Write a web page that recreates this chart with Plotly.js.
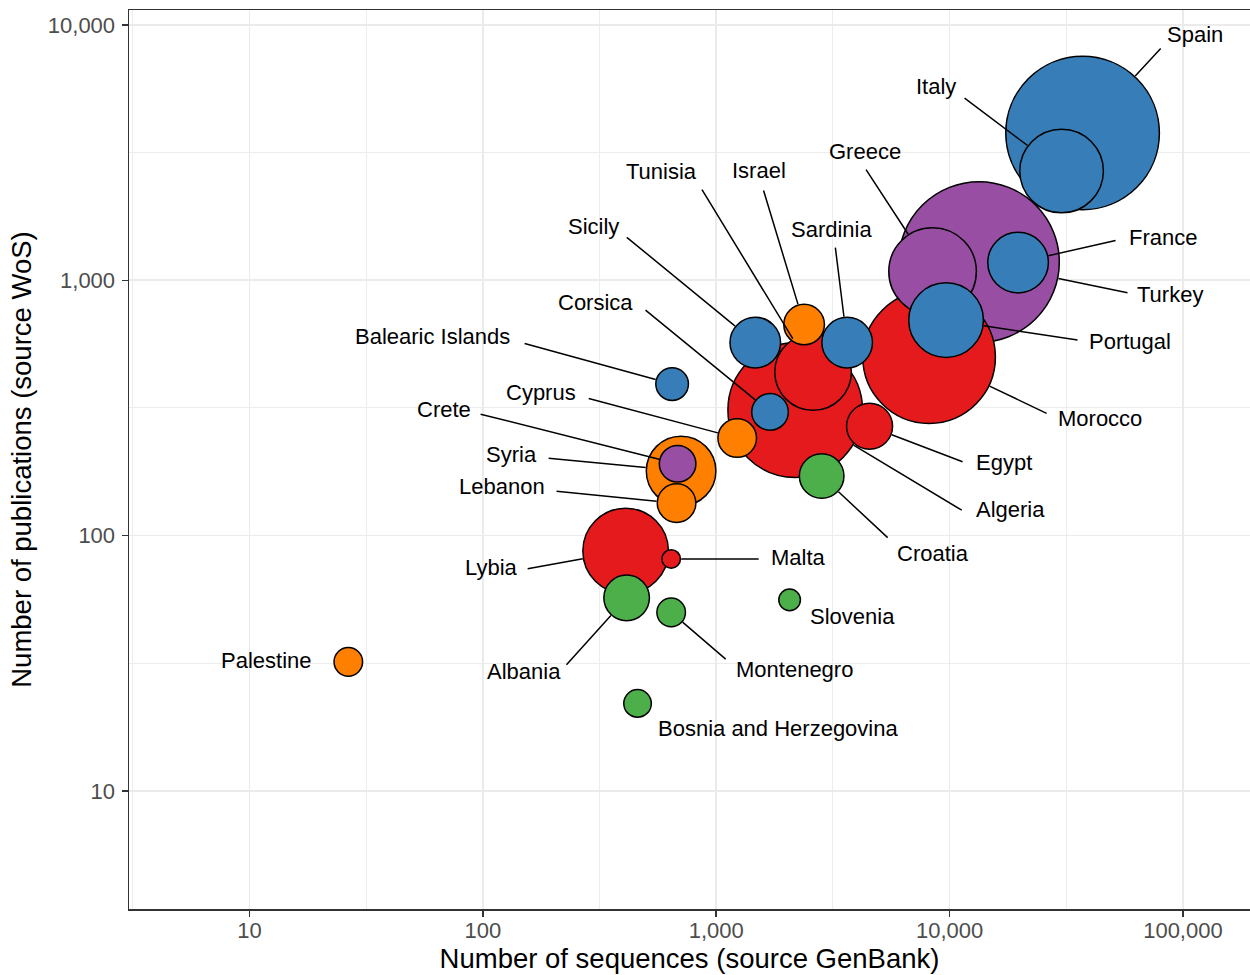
<!DOCTYPE html>
<html>
<head>
<meta charset="utf-8">
<script src="https://cdn.plot.ly/plotly-3.0.1.min.js"></script>
<style>
  html, body { margin: 0; padding: 0; background: #ffffff; }
  #chart { width: 1250px; height: 975px; }
</style>
</head>
<body>
<div id="chart"></div>
<script>
// ---------------- DATA ----------------
const countries = ["Spain", "Italy", "Turkey", "Greece", "France", "Portugal", "Morocco", "Egypt",
  "Algeria", "Tunisia", "Sardinia", "Israel", "Sicily", "Corsica", "Balearic Islands", "Cyprus",
  "Crete", "Syria", "Lebanon", "Croatia", "Lybia", "Malta", "Albania", "Montenegro", "Slovenia",
  "Bosnia and Herzegovina", "Palestine"];

// Number of sequences (source GenBank)
const sequences = [37150, 30200, 13370, 8455, 19660, 9660, 8170, 4540,
  2180, 2600, 3640, 2380, 1470, 1700, 647, 1230,
  683, 707, 676, 2830, 409, 641, 413, 641, 2063,
  460, 26.5];

// Number of publications (source WoS)
const publications = [3775, 2678, 1179, 1082, 1173, 698, 500, 268,
  310, 437, 570, 671, 570, 305, 392, 241,
  191, 179, 134, 171, 87, 81, 57, 50, 56,
  22, 32];

// Bubble size variable (relative)
const bubbleValue = [590, 174.7, 644.8, 191.8, 91.8, 139.1, 439.6, 52.9,
  452.9, 146.7, 64, 41.2, 64, 33.5, 26.6, 37.2,
  33.5, 121.1, 37.2, 49.7, 183.2, 8.6, 52, 20.4, 11.7,
  19, 20.4];

// Region group of each country
const region = ["Western", "Western", "Eastern", "Eastern", "Western", "Western", "Southern", "Southern",
  "Southern", "Southern", "Western", "Levant", "Western", "Western", "Western", "Levant",
  "Eastern", "Levant", "Levant", "Balkans", "Southern", "Southern", "Balkans", "Balkans", "Balkans",
  "Balkans", "Levant"];

const xTickVals = [10, 100, 1000, 10000, 100000];
const xTickText = ["10", "100", "1,000", "10,000", "100,000"];
const yTickVals = [10, 100, 1000, 10000];
const yTickText = ["10", "100", "1,000", "10,000"];

// ---------------- STYLE / LAYOUT ----------------
const FONT = '"Liberation Sans", Arial, Helvetica, sans-serif';
const regionColors = {
  Western: "#377EB8",
  Eastern: "#984EA3",
  Southern: "#E41A1C",
  Levant: "#FF7F00",
  Balkans: "#4DAF4A"
};
const SIZEREF = 0.05;
const LINE_W = 1.5;
const outerR = v => Math.sqrt(v / (2 * SIZEREF)) + LINE_W / 2;

// label placement (pixel offsets from bubble centre): text centre (dx,dy), segment start (sx,sy)
const labelLayout = {
  "Spain": { dx: 112.5, dy: -99, sx: 79.5, sy: -86 },
  "Italy": { dx: -125.5, dy: -85, sx: -98.5, sy: -74 },
  "Turkey": { dx: 191, dy: 32, sx: 150, sy: 31 },
  "Greece": { dx: -67.5, dy: -120.5, sx: -67.5, sy: -103.5 },
  "France": { dx: 144.5, dy: -25.5, sx: 99, sy: -22.5 },
  "Portugal": { dx: 183.5, dy: 21, sx: 133, sy: 20 },
  "Morocco": { dx: 170.5, dy: 61, sx: 119, sy: 57 },
  "Egypt": { dx: 134, dy: 36, sx: 94.5, sy: 36 },
  "Algeria": { dx: 215.5, dy: 99, sx: 168, sy: 101 },
  "Tunisia": { dx: -152, dy: -201, sx: -112, sy: -184 },
  "Sardinia": { dx: -15.5, dy: -113.5, sx: -12, sy: -96.5 },
  "Israel": { dx: -45.5, dy: -154.5, sx: -41, sy: -135.5 },
  "Sicily": { dx: -162, dy: -116.5, sx: -130, sy: -106.5 },
  "Corsica": { dx: -175, dy: -109, sx: -126, sy: -103 },
  "Balearic Islands": { dx: -239.5, dy: -48, sx: -149, sy: -41 },
  "Cyprus": { dx: -196, dy: -46, sx: -150, sy: -40 },
  "Crete": { dx: -233.5, dy: -54, sx: -198.5, sy: -50 },
  "Syria": { dx: -170, dy: -17, sx: -134, sy: -13 },
  "Lebanon": { dx: -174.5, dy: -17, sx: -121.5, sy: -12 },
  "Croatia": { dx: 111, dy: 77, sx: 67.5, sy: 63 },
  "Lybia": { dx: -134.5, dy: 17, sx: -99.5, sy: 18 },
  "Malta": { dx: 127, dy: -1, sx: 89, sy: 0 },
  "Albania": { dx: -102.5, dy: 73.5, sx: -61.5, sy: 68.5 },
  "Montenegro": { dx: 123, dy: 57, sx: 56, sy: 48 },
  "Slovenia": { dx: 62.5, dy: 16.5 },
  "Bosnia and Herzegovina": { dx: 140, dy: 25.5 },
  "Palestine": { dx: -81.5, dy: -1 }
};

// draw largest bubbles first
const order = countries.map((_, i) => i).sort((a, b) => bubbleValue[b] - bubbleValue[a]);

const trace = {
  type: "scatter",
  mode: "markers",
  x: order.map(i => sequences[i]),
  y: order.map(i => publications[i]),
  text: order.map(i => countries[i]),
  hoverinfo: "text",
  marker: {
    size: order.map(i => bubbleValue[i]),
    sizemode: "area",
    sizeref: SIZEREF,
    color: order.map(i => regionColors[region[i]]),
    opacity: 1,
    line: { color: "#000000", width: LINE_W }
  },
  showlegend: false,
  cliponaxis: false
};

const annotations = [];
countries.forEach((name, i) => {
  const lay = labelLayout[name];
  const lx = Math.log10(sequences[i]);
  const ly = Math.log10(publications[i]);
  if (lay.sx !== undefined) {
    annotations.push({
      x: lx, y: ly, xref: "x", yref: "y",
      text: "", showarrow: true, arrowhead: 0, arrowwidth: 1.5, arrowcolor: "#000000",
      axref: "pixel", ayref: "pixel", ax: lay.sx, ay: lay.sy,
      standoff: outerR(bubbleValue[i])
    });
  }
  annotations.push({
    x: lx, y: ly, xref: "x", yref: "y",
    text: name, showarrow: false,
    xshift: lay.dx, yshift: -lay.dy,
    xanchor: "center", yanchor: "middle",
    font: { family: FONT, size: 22, color: "#000000" }
  });
});

const gridMajor = "#EBEBEB";
const layout = {
  width: 1250,
  height: 975,
  margin: { l: 129, r: 0, t: 10, b: 66, pad: 0 },
  paper_bgcolor: "#ffffff",
  plot_bgcolor: "#ffffff",
  font: { family: FONT, color: "#000000" },
  showlegend: false,
  hovermode: "closest",
  xaxis: {
    type: "log",
    range: [0.4833, 5.2875],
    tickmode: "array",
    tickvals: xTickVals,
    ticktext: xTickText,
    ticks: "outside",
    ticklen: 6,
    tickwidth: 1.5,
    tickcolor: "#333333",
    ticklabelstandoff: -5,
    tickfont: { family: FONT, size: 22, color: "#4D4D4D" },
    showgrid: true,
    gridcolor: gridMajor,
    gridwidth: 1.7,
    minor: {
      tickmode: "array",
      tickvals: [3.1623, 31.623, 316.23, 3162.3, 31623],
      showgrid: true,
      gridcolor: gridMajor,
      gridwidth: 0.9,
      ticks: ""
    },
    zeroline: false,
    showline: true,
    mirror: true,
    linecolor: "#333333",
    linewidth: 1.5,
    title: {
      text: "Number of sequences (source GenBank)",
      font: { family: FONT, size: 27.5, color: "#000000" },
      standoff: 6
    }
  },
  yaxis: {
    type: "log",
    range: [0.537, 4.0588],
    tickmode: "array",
    tickvals: yTickVals,
    ticktext: yTickText,
    ticks: "outside",
    ticklen: 6,
    tickwidth: 1.5,
    tickcolor: "#333333",
    ticklabelstandoff: 2,
    tickfont: { family: FONT, size: 22, color: "#4D4D4D" },
    showgrid: true,
    gridcolor: gridMajor,
    gridwidth: 1.7,
    minor: {
      tickmode: "array",
      tickvals: [3.1623, 31.623, 316.23, 3162.3],
      showgrid: true,
      gridcolor: gridMajor,
      gridwidth: 0.9,
      ticks: ""
    },
    zeroline: false,
    showline: true,
    mirror: true,
    linecolor: "#333333",
    linewidth: 1.5,
    title: {
      text: "Number of publications (source WoS)",
      font: { family: FONT, size: 27.5, color: "#000000" },
      standoff: 8
    }
  },
  annotations: annotations
};

Plotly.newPlot("chart", [trace], layout, { displayModeBar: false, staticPlot: true });
</script>
</body>
</html>
